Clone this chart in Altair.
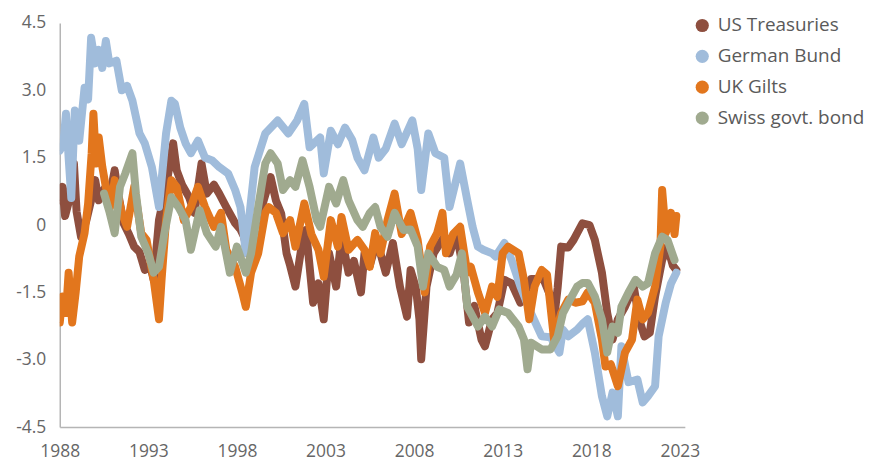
import altair as alt
import pandas as pd

series_names = ["US Treasuries", "German Bund", "UK Gilts", "Swiss govt. bond"]
series_colors = ["#8e4f3f", "#a0bcdb", "#e2761d", "#a0aa8f"]

us_years = [1988.0, 1988.15, 1988.3, 1988.5, 1988.8, 1988.95, 1989.2, 1989.5, 1989.8, 1990.0, 1990.2, 1990.5, 1990.8,
            1991.1, 1991.3, 1991.6, 1991.9, 1992.2, 1992.5, 1992.8, 1993.1, 1993.3, 1993.6, 1994.0, 1994.4, 1994.6,
            1994.9, 1995.3, 1995.6, 1996.0, 1996.3, 1996.7, 1997.0, 1997.4, 1997.9, 1998.2, 1998.4, 1998.6, 1999.0,
            1999.4, 1999.9, 2000.2, 2000.5, 2000.8, 2001.0, 2001.3, 2001.6, 2001.9, 2002.3, 2002.6, 2002.9, 2003.2,
            2003.6, 2003.9, 2004.3, 2004.6, 2005.0, 2005.2, 2005.5, 2005.8, 2006.1, 2006.4, 2006.8, 2007.2, 2007.6,
            2007.8, 2008.1, 2008.3, 2008.4, 2008.7, 2009.1, 2009.7, 2010.0, 2010.4, 2010.8, 2011.1, 2011.4, 2011.8,
            2012.0, 2012.4, 2012.7, 2013.1, 2013.5, 2014.0, 2014.6, 2015.3, 2015.7, 2015.9, 2016.1, 2016.3, 2016.7,
            2017.0, 2017.5, 2017.9, 2018.2, 2018.6, 2018.9, 2019.2, 2019.5, 2019.9, 2020.4, 2020.7, 2021.0, 2021.3,
            2021.6, 2022.0, 2022.3, 2022.6, 2022.8]
us_values = [0.55, 0.85, 0.2, 0.5, 1.37, 0.3, -0.26, 0.1, 0.6, 1.0, 0.55, 0.8, 0.6,
             1.22, 0.7, 0.04, -0.2, -0.48, -0.6, -1.0, -0.9, -1.22, 0.11, 0.85, 1.82, 1.22,
             0.9, 0.62, 0.27, 1.37, 0.7, 0.9, 0.7, 0.4, 0.04, -0.1, -0.26, -0.63, -0.04,
             0.4, 1.07, 0.55, 0.25, -0.63, -0.9, -1.37, -0.6, -0.11, -1.73, -1.3, -2.1, -0.63,
             -1.37, -0.26, -1.06, -0.8, -1.5, -0.63, -0.9, -0.48, -0.63, -1.06, -0.4, -1.37, -2.04,
             -1.0, -1.4, -2.1, -2.99, -1.37, -0.63, -0.26, -0.63, -0.18, -1.06, -2.17, -1.8, -2.55,
             -2.7, -2.1, -1.96, -1.22, -1.3, -1.73, -1.2, -1.2, -1.59, -2.1, -1.4, -0.48, -0.5,
             -0.33, 0.04, 0.0, -0.33, -1.06, -1.96, -2.55, -2.1, -1.82, -1.37, -2.1, -2.48, -2.4,
             -1.59, -0.78, -0.48, -0.9, -1.0]

de_years = [1988.0, 1988.2, 1988.35, 1988.5, 1988.65, 1988.85, 1989.1, 1989.4, 1989.6, 1989.77, 1990.0, 1990.2,
            1990.4, 1990.6, 1990.8, 1991.2, 1991.5, 1991.8, 1992.1, 1992.5, 1992.8, 1993.2, 1993.6, 1994.0, 1994.3,
            1994.5, 1994.8, 1995.1, 1995.4, 1995.8, 1996.2, 1996.6, 1997.0, 1997.5, 1997.9, 1998.2, 1998.5, 1998.7,
            1999.0, 1999.6, 2000.3, 2000.9, 2001.4, 2001.8, 2002.1, 2002.7, 2002.9, 2003.3, 2003.7, 2004.1, 2004.5,
            2004.8, 2005.2, 2005.7, 2006.0, 2006.4, 2006.9, 2007.3, 2007.9, 2008.2, 2008.4, 2008.8, 2009.2, 2009.7,
            2010.0, 2010.6, 2011.0, 2011.3, 2011.6, 2011.9, 2012.4, 2012.6, 2013.1, 2013.5, 2014.0, 2014.6, 2015.2,
            2015.7, 2016.2, 2016.4, 2016.7, 2017.2, 2017.5, 2017.8, 2018.2, 2018.6, 2018.9, 2019.2, 2019.5, 2019.7,
            2020.1, 2020.6, 2020.9, 2021.2, 2021.6, 2021.8, 2022.2, 2022.5, 2022.8]
de_values = [1.66, 1.8, 2.48, 1.5, 0.6, 2.55, 1.88, 3.06, 2.8, 4.17, 3.6, 3.9,
             3.5, 4.1, 3.6, 3.66, 3.0, 3.1, 2.77, 2.04, 1.82, 1.29, 0.4, 2.04, 2.77,
             2.7, 2.17, 1.82, 1.6, 1.88, 1.5, 1.44, 1.29, 1.15, 0.78, 0.4, -0.62, 0.2,
             1.29, 2.04, 2.33, 2.04, 2.33, 2.7, 1.73, 1.95, 1.15, 2.1, 1.8, 2.17, 1.9,
             1.5, 1.22, 1.95, 1.5, 1.7, 2.26, 1.8, 2.33, 1.7, 0.78, 2.04, 1.6, 1.5,
             0.4, 1.37, 0.55, -0.04, -0.48, -0.55, -0.63, -0.7, -0.4, -0.78, -1.37, -1.96, -2.48,
             -2.5, -2.84, -2.33, -2.48, -2.33, -2.2, -2.1, -2.84, -3.81, -4.26, -3.73, -4.26, -2.7,
             -3.5, -3.44, -3.95, -3.81, -3.59, -2.48, -1.73, -1.3, -1.06]

uk_years = [1988.0, 1988.15, 1988.35, 1988.5, 1988.7, 1988.9, 1989.1, 1989.4, 1989.6, 1989.8, 1989.9, 1990.05,
            1990.2, 1990.4, 1990.6, 1990.85, 1991.1, 1991.5, 1991.8, 1992.2, 1992.6, 1992.9, 1993.3, 1993.6, 1993.75,
            1994.0, 1994.3, 1994.6, 1995.0, 1995.4, 1995.8, 1996.2, 1996.7, 1997.1, 1997.4, 1997.9, 1998.3, 1998.5,
            1998.8, 1999.2, 1999.6, 1999.8, 2000.2, 2000.6, 2001.0, 2001.3, 2001.8, 2002.2, 2002.6, 2002.9, 2003.3,
            2003.7, 2003.9, 2004.3, 2004.8, 2005.2, 2005.5, 2005.8, 2006.1, 2006.5, 2006.9, 2007.3, 2007.8, 2008.2,
            2008.6, 2008.9, 2009.3, 2009.6, 2009.8, 2010.2, 2010.6, 2011.0, 2011.2, 2011.6, 2012.0, 2012.4, 2012.7,
            2013.0, 2013.3, 2013.9, 2014.2, 2014.5, 2014.8, 2015.2, 2015.5, 2015.9, 2016.3, 2016.7, 2017.1, 2017.5,
            2017.8, 2018.2, 2018.6, 2018.8, 2019.1, 2019.5, 2019.9, 2020.3, 2020.6, 2020.9, 2021.2, 2021.6, 2021.9,
            2022.0, 2022.2, 2022.5, 2022.7, 2022.8]
uk_values = [-2.17, -1.59, -1.96, -1.06, -2.17, -1.5, -0.7, -0.18, 0.48, 1.6, 2.48, 1.37,
             1.95, 1.3, 0.85, 0.4, 1.0, 0.27, -0.04, 0.85, -0.18, -0.33, -1.22, -2.1, -1.2,
             0.11, 1.0, 0.85, 0.11, 0.4, 0.85, 0.4, -0.04, 0.27, -0.55, -0.93, -1.5, -1.82,
             -1.06, -0.63, 0.27, 0.4, 0.27, -0.18, 0.11, -0.48, 0.48, -0.2, -0.55, -1.15, 0.11,
             -0.48, 0.18, -0.55, -0.33, -0.55, -0.93, -0.18, -0.63, 0.11, 0.7, -0.2, 0.27, -0.33,
             -1.5, -0.48, -0.18, 0.27, -0.63, -0.2, -0.04, -1.06, -0.93, -1.5, -1.96, -1.37, -1.6,
             -0.63, -0.48, -0.63, -1.22, -2.1, -1.37, -1.0, -1.1, -2.55, -1.96, -1.66, -1.73, -1.7,
             -1.5, -1.73, -2.55, -3.15, -3.1, -3.59, -2.84, -2.55, -1.66, -2.1, -1.96, -1.37, -0.48,
             0.78, -0.18, 0.27, -0.2, 0.2]

ch_years = [1990.5, 1990.8, 1991.1, 1991.4, 1991.7, 1992.1, 1992.3, 1992.6, 1993.0, 1993.3, 1993.6, 1993.9,
            1994.3, 1994.7, 1995.1, 1995.4, 1995.9, 1996.3, 1996.8, 1997.1, 1997.6, 1998.0, 1998.5, 1998.8, 1999.2,
            1999.6, 1999.9, 2000.3, 2000.6, 2001.0, 2001.3, 2001.7, 2002.1, 2002.5, 2002.7, 2003.2, 2003.6, 2004.0,
            2004.3, 2004.8, 2005.1, 2005.5, 2005.8, 2006.1, 2006.5, 2006.9, 2007.4, 2007.8, 2008.2, 2008.5, 2008.8,
            2009.3, 2009.7, 2010.0, 2010.4, 2010.7, 2011.0, 2011.2, 2011.6, 2012.0, 2012.4, 2012.8, 2013.3, 2013.9,
            2014.2, 2014.4, 2014.6, 2015.2, 2015.7, 2016.1, 2016.4, 2016.8, 2017.2, 2017.5, 2017.8, 2018.2, 2018.6,
            2018.9, 2019.2, 2019.5, 2019.7, 2020.1, 2020.5, 2020.9, 2021.2, 2021.6, 2022.0, 2022.3, 2022.7]
ch_values = [0.7, 0.3, -0.18, 0.85, 1.15, 1.6, 0.7, -0.26, -0.63, -1.06, -0.93, -0.2,
             0.62, 0.4, 0.11, -0.55, 0.33, -0.18, -0.48, -0.04, -1.06, -0.48, -1.06, -0.63, 0.4,
             1.37, 1.6, 1.37, 0.78, 1.0, 0.85, 1.44, 0.85, 0.11, -0.04, 0.85, 0.48, 1.0,
             0.55, 0.11, -0.04, 0.27, 0.4, -0.04, -0.26, 0.27, -0.11, -0.1, -0.48, -1.37, -0.63,
             -0.93, -1.0, -1.37, -1.1, -0.63, -1.82, -1.96, -2.26, -2.04, -2.26, -1.88, -1.96, -2.26,
             -2.55, -3.21, -2.62, -2.77, -2.77, -2.48, -1.96, -1.66, -1.37, -1.29, -1.29, -1.59, -2.1,
             -2.84, -2.26, -2.4, -1.82, -1.5, -1.22, -1.37, -1.3, -0.63, -0.26, -0.33, -0.78]

x_ticks = [1988, 1993, 1998, 2003, 2008, 2013, 2018, 2023]
y_ticks = [-4.5, -3.0, -1.5, 0.0, 1.5, 3.0, 4.5]

frames = []
for i, (name, yrs, vals) in enumerate(zip(series_names,
                                          [us_years, de_years, uk_years, ch_years],
                                          [us_values, de_values, uk_values, ch_values])):
    frames.append(pd.DataFrame({"year": yrs, "value": vals, "series": name, "order": i}))
df = pd.concat(frames, ignore_index=True)

FONT = "Open Sans"

x_enc = alt.X("year:Q",
              scale=alt.Scale(domain=[1988, 2023.28], nice=False, zero=False),
              axis=alt.Axis(values=x_ticks, labelExpr="'' + datum.value", title=None,
                            grid=False, ticks=False, domainColor="#b5b5b5", domainWidth=1.5,
                            labelColor="#666666", labelFontSize=17.5, labelFont=FONT,
                            labelPadding=16, labelFlush=False))
y_enc = alt.Y("value:Q",
              scale=alt.Scale(domain=[-4.5, 4.5], nice=False, zero=False),
              axis=alt.Axis(values=y_ticks,
                            labelExpr="datum.value == 0 ? '0' : (datum.value < 0 ? '-' : '') + format(abs(datum.value), '.1f')",
                            title=None, grid=False, ticks=False, domainColor="#b5b5b5", domainWidth=1.5,
                            labelColor="#666666", labelFontSize=17.5, labelFont=FONT,
                            labelPadding=14))
color_scale = alt.Scale(domain=series_names, range=series_colors)

legend_pts = alt.Chart(df).mark_circle(size=1, opacity=1, clip=True).encode(
    x=x_enc, y=y_enc,
    color=alt.Color("series:N", scale=color_scale,
                    legend=alt.Legend(title=None, orient="none", legendX=636, legendY=-7,
                                      symbolType="circle", symbolSize=175, symbolOpacity=1,
                                      symbolStrokeWidth=0,
                                      labelFontSize=19, labelFont=FONT, labelColor="#5a5a5a",
                                      rowPadding=11, labelOffset=6)),
)

lines = alt.Chart(df).mark_line(
    strokeWidth=8, strokeCap="round", strokeJoin="round", clip=True
).encode(
    x=x_enc, y=y_enc,
    color=alt.Color("series:N", scale=color_scale, legend=None),
    detail="series:N",
    order="order:Q",
)

chart = alt.layer(legend_pts, lines).resolve_legend(color="independent").properties(
    width=628, height=406,
    autosize=alt.AutoSizeParams(type="none"),
    padding={"left": 52, "top": 14, "right": 180, "bottom": 33},
).configure_view(stroke=None)

chart.save("out.html", embed_options={"renderer": "svg", "actions": False})
